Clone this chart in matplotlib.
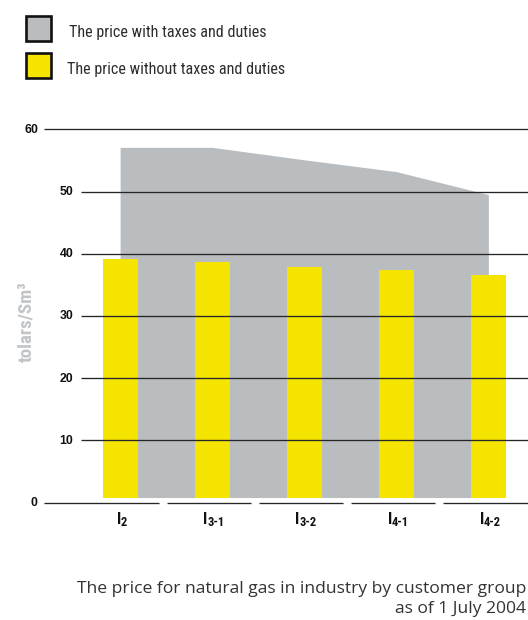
import matplotlib
matplotlib.use("Agg")
import matplotlib.pyplot as plt
from matplotlib import font_manager as fm
from matplotlib.patches import Rectangle
import numpy as np

# ---- data -------------------------------------------------------------
group_subscripts = ["2", "3-1", "3-2", "4-1", "4-2"]          # customer groups I_x
price_with_taxes = [57.1, 57.1, 55.1, 53.2, 49.5]              # tolars/Sm3
price_without_taxes = [39.2, 38.6, 37.9, 37.4, 36.5]           # tolars/Sm3
y_ticks = [0, 10, 20, 30, 40, 50, 60]
legend_labels = ["The price with taxes and duties",
                 "The price without taxes and duties"]
y_label = "tolars/Sm³"
caption_lines = ["The price for natural gas in industry by customer group",
                 "as of 1 July 2004"]

# ---- style ------------------------------------------------------------
YELLOW = "#f5e400"
GREY = "#babdc0"
LINE = "#262626"
TEXT = "#2e2e2e"
LABEL_GREY = "#c2c5c8"

fonts = fm.fontManager.ttflist
names = {f.name for f in fonts}
narrow_name = next((n for n in ["Roboto Condensed", "Liberation Sans Narrow",
                                "Open Sans Condensed"] if n in names), None)
if narrow_name:
    NARROW = {"family": narrow_name}
elif any(f.name == "DejaVu Sans" and f.stretch == "condensed" for f in fonts):
    NARROW = {"family": "DejaVu Sans", "stretch": "condensed"}
else:
    NARROW = {"family": "Liberation Sans"}


def has_bold(name):
    return any(f.name == name and f.weight in (600, 700, 800, 900, "bold", "heavy",
                                                "black", "semibold", "demibold")
               for f in fonts)


NARROW_BOLD = dict(NARROW) if has_bold(NARROW["family"]) else {"family": "Liberation Sans"}
NARROW_BOLD["weight"] = "bold"
TICK_FONT = {"family": "Liberation Sans", "weight": "bold"}
CAPTION_FONT = next((n for n in ["Open Sans", "Noto Sans", "DejaVu Sans"] if n in names),
                    "DejaVu Sans")

W, H, DPI = 528, 620, 100
fig = plt.figure(figsize=(W / DPI, H / DPI), dpi=DPI)
renderer = fig.canvas.get_renderer()


def fig_xy(px, py):
    """pixel position (from top-left) -> figure fraction"""
    return px / W, 1 - py / H


def fit_width(t, target_px):
    w = t.get_window_extent(renderer).width
    t.set_fontsize(t.get_fontsize() * target_px / w)


def fit_height(t, target_px):
    h = t.get_window_extent(renderer).height
    t.set_fontsize(t.get_fontsize() * target_px / h)


# ---- plot area ----------------------------------------------------------
UNIT_X = 92.07          # pixels per category step
FIRST_X = 120.1         # pixel of first category
UNIT_Y = 6.22           # pixels per tolar
ZERO_Y = 502.5          # pixel row of zero
ax_left, ax_right, ax_top, ax_bottom = 44, 528, 122, 512
ax = fig.add_axes([ax_left / W, (H - ax_bottom) / H,
                   (ax_right - ax_left) / W, (ax_bottom - ax_top) / H])
ax.set_xlim((ax_left - FIRST_X) / UNIT_X, (ax_right - FIRST_X) / UNIT_X)
ax.set_ylim(-(ax_bottom - ZERO_Y) / UNIT_Y, (ZERO_Y - ax_top) / UNIT_Y)
ax.axis("off")

x = np.arange(len(group_subscripts))
floor = 0.8
xmin, xmax = ax.get_xlim()

ax.fill_between(x, floor, price_with_taxes, color=GREY, lw=0, zorder=1)
ax.bar(x, np.array(price_without_taxes) - floor, bottom=floor, width=0.38,
       color=YELLOW, lw=0, zorder=2)

grid_start = (81 - FIRST_X) / UNIT_X
for v in y_ticks:
    if v == 0:
        # baseline split into one segment per group
        edges = [xmin] + [k + 0.5 - 0.035 for k in range(len(x) - 1)] + [xmax]
        for k in range(len(edges) - 1):
            a = edges[k] + (0.045 if k > 0 else 0)
            b = edges[k + 1] - (0.045 if k < len(edges) - 2 else 0)
            ax.plot([a, b], [0, 0], color=LINE, lw=0.95, zorder=3,
                    solid_capstyle="butt")
        lx = (37.5 - FIRST_X) / UNIT_X
    elif v == y_ticks[-1]:
        ax.plot([xmin, xmax], [v, v], color=LINE, lw=0.95, zorder=3,
                solid_capstyle="butt")
        lx = (38.5 - FIRST_X) / UNIT_X
    else:
        ax.plot([grid_start, xmax], [v, v], color=LINE, lw=0.95, zorder=3,
                solid_capstyle="butt")
        lx = (73.5 - FIRST_X) / UNIT_X
    ax.text(lx, v - 0.55, str(v), ha="right", va="baseline", fontsize=8.8,
            color="#111111", clip_on=False, **TICK_FONT)

# category labels: "I" with a subscript
main_fs = 11.6
sub_fs = 9.0
y_main = -(523.5 - ZERO_Y) / UNIT_Y
y_sub = -(526.0 - ZERO_Y) / UNIT_Y
for xi, sub in zip(x, group_subscripts):
    t1 = ax.text(xi, y_main, "I", ha="left", va="baseline", fontsize=main_fs,
                 color="#111111", clip_on=False, **NARROW_BOLD)
    t2 = ax.text(xi, y_sub, sub, ha="left", va="baseline", fontsize=sub_fs,
                 color="#111111", clip_on=False, **NARROW_BOLD)
    w1 = t1.get_window_extent(renderer).width / UNIT_X
    w2 = t2.get_window_extent(renderer).width / UNIT_X
    start = xi - (w1 + w2) / 2 + 0.02
    t1.set_x(start)
    t2.set_x(start + w1 - 0.005)

# y axis title
yl = fig.text(*fig_xy(26.0, 322), y_label, rotation=90, ha="center", va="center",
              fontsize=14, color=LABEL_GREY, **NARROW_BOLD)
fit_height(yl, 81)

# ---- legend ------------------------------------------------------------
for (top, color) in [(15.0, GREY), (51.7, YELLOW)]:
    bx, by = fig_xy(25.5, top + 26.2)
    fig.patches.append(Rectangle((bx, by), 25 / W, 24.8 / H, transform=fig.transFigure,
                                 facecolor=color, edgecolor="#111111", lw=1.9))
lt1 = fig.text(*fig_xy(69.3, 37.3), legend_labels[0], ha="left", va="baseline",
               fontsize=12, color=TEXT, **NARROW)
fit_width(lt1, 197.5)
lt2 = fig.text(*fig_xy(66.7, 74.0), legend_labels[1], ha="left", va="baseline",
               fontsize=12, color=TEXT, **NARROW)
fit_width(lt2, 218)

# ---- caption -----------------------------------------------------------
c1 = fig.text(*fig_xy(526, 592.7), caption_lines[0], ha="right", va="baseline",
              family=CAPTION_FONT, fontsize=12, color="#333333")
fit_width(c1, 446.7)
fig.text(*fig_xy(526, 613.3), caption_lines[1], ha="right", va="baseline",
         family=CAPTION_FONT, fontsize=c1.get_fontsize(), color="#333333")

fig.savefig("out.png", dpi=DPI)
